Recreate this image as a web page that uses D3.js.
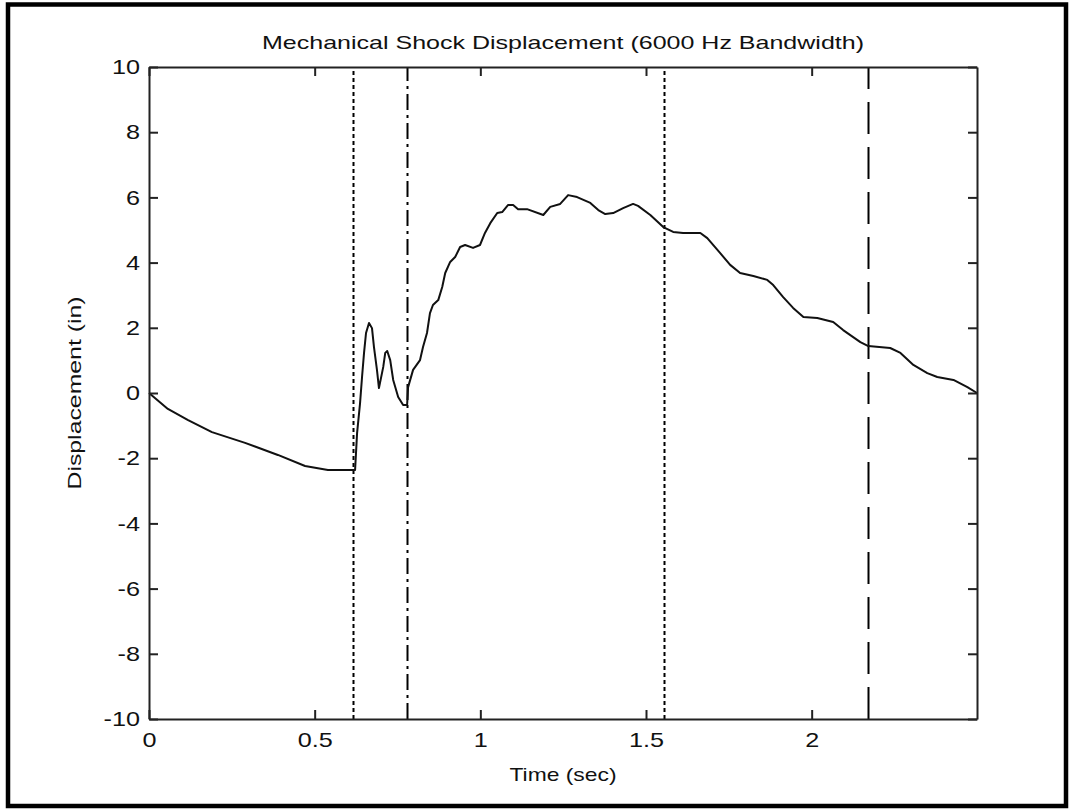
<!DOCTYPE html>
<html>
<head>
<meta charset="utf-8">
<script src="https://cdn.jsdelivr.net/npm/d3@7"></script>
<style>
  html, body { margin: 0; padding: 0; background: #fff; }
  svg { display: block; }
  text { font-family: "Liberation Sans", Arial, sans-serif; fill: #111; }
</style>
</head>
<body>
<svg id="chart" width="1070" height="809"></svg>
<script>
// ---- data ----
const title = "Mechanical Shock Displacement (6000 Hz Bandwidth)";
const xLabel = "Time (sec)";
const yLabel = "Displacement (in)";
const xTicks = [0, 0.5, 1, 1.5, 2];
const yTicks = [-10, -8, -6, -4, -2, 0, 2, 4, 6, 8, 10];
const xDomain = [0, 2.499];
const yDomain = [-10, 10];

const timeSec = [0, 0.057, 0.118, 0.190, 0.290, 0.389, 0.471, 0.540, 0.622, 0.628, 0.637, 0.643, 0.649, 0.655, 0.664, 0.673, 0.679, 0.688, 0.694, 0.707, 0.713, 0.719, 0.728, 0.737, 0.752, 0.767, 0.779, 0.782, 0.797, 0.818, 0.827, 0.839, 0.848, 0.857, 0.873, 0.885, 0.894, 0.909, 0.924, 0.939, 0.954, 0.978, 0.999, 1.014, 1.030, 1.051, 1.066, 1.084, 1.099, 1.114, 1.141, 1.190, 1.211, 1.241, 1.265, 1.292, 1.332, 1.356, 1.377, 1.401, 1.431, 1.461, 1.476, 1.513, 1.552, 1.582, 1.612, 1.664, 1.685, 1.724, 1.754, 1.784, 1.824, 1.866, 1.884, 1.914, 1.944, 1.975, 2.017, 2.065, 2.095, 2.147, 2.171, 2.237, 2.268, 2.307, 2.349, 2.379, 2.428, 2.470, 2.499];
const displacementIn = [0, -0.49, -0.83, -1.20, -1.53, -1.90, -2.24, -2.36, -2.36, -1.23, -0.31, 0.49, 1.23, 1.84, 2.15, 1.99, 1.41, 0.71, 0.15, 0.80, 1.23, 1.29, 1.01, 0.40, -0.12, -0.37, -0.37, 0.18, 0.71, 1.01, 1.41, 1.84, 2.45, 2.70, 2.85, 3.25, 3.68, 4.02, 4.17, 4.48, 4.54, 4.45, 4.54, 4.91, 5.21, 5.52, 5.55, 5.77, 5.77, 5.64, 5.64, 5.46, 5.71, 5.80, 6.07, 6.01, 5.83, 5.61, 5.49, 5.52, 5.67, 5.80, 5.74, 5.46, 5.09, 4.94, 4.91, 4.91, 4.75, 4.29, 3.93, 3.68, 3.59, 3.47, 3.31, 2.94, 2.61, 2.33, 2.30, 2.18, 1.93, 1.56, 1.44, 1.38, 1.23, 0.86, 0.61, 0.49, 0.40, 0.18, 0];

// vertical marker lines (time, style)
const markerTimes = [0.616, 0.780, 1.553, 2.171];
const markerStyles = ["dotted", "dashdot", "dotted", "dashed"];

// ---- layout ----
const svg = d3.select("#chart");
const plot = { left: 149, top: 67, right: 977, bottom: 719 };

const x = d3.scaleLinear().domain(xDomain).range([plot.left, plot.right]);
const y = d3.scaleLinear().domain(yDomain).range([plot.bottom, plot.top]);

// horizontally widen text (reference uses a wide bitmap font)
function widen(sel, factor) {
  sel.each(function () {
    const len = this.getComputedTextLength();
    d3.select(this).attr("textLength", len * factor).attr("lengthAdjust", "spacingAndGlyphs");
  });
}

// outer frame
svg.append("rect").attr("x", 8).attr("y", 4.5).attr("width", 1058).attr("height", 801.5)
  .attr("fill", "#fff").attr("stroke", "#000").attr("stroke-width", 4.5);

const dashMap = { dotted: "4,3", dashdot: "16,5,3,5", dashed: "32,13" };

// marker lines
svg.append("g").selectAll("line").data(markerTimes).join("line")
  .attr("x1", d => Math.round(x(d)) + 0.5).attr("x2", d => Math.round(x(d)) + 0.5)
  .attr("y1", y(yDomain[0])).attr("y2", y(yDomain[1]))
  .attr("stroke", "#000").attr("stroke-width", 2)
  .attr("stroke-dasharray", (d, i) => dashMap[markerStyles[i]]);

// data line
const pts = timeSec.map((t, i) => [t, displacementIn[i]]);
svg.append("path").datum(pts)
  .attr("fill", "none").attr("stroke", "#111").attr("stroke-width", 2)
  .attr("stroke-linejoin", "round")
  .attr("d", d3.line().x(d => x(d[0])).y(d => y(d[1])));

// axes (ticks inward on all four sides)
const tick = 9;
const fmt = d => String(d);
const axStyle = g => {
  g.selectAll(".domain").attr("stroke", "#222").attr("stroke-width", 2);
  g.selectAll(".tick line").attr("stroke", "#222").attr("stroke-width", 2);
};
const labStyle = g => g.selectAll("text").attr("font-size", 21).attr("fill", "#222")
  .attr("font-family", "Liberation Sans, Arial, sans-serif");

const gx = svg.append("g").attr("transform", `translate(0,${plot.bottom})`)
  .call(d3.axisBottom(x).tickValues(xTicks).tickSizeInner(-tick).tickSizeOuter(0).tickPadding(13).tickFormat(fmt))
  .call(axStyle).call(labStyle);
svg.append("g").attr("transform", `translate(0,${plot.top})`)
  .call(d3.axisTop(x).tickValues(xTicks).tickSizeInner(-tick).tickSizeOuter(0).tickFormat(""))
  .call(axStyle);
const gy = svg.append("g").attr("transform", `translate(${plot.left},0)`)
  .call(d3.axisLeft(y).tickValues(yTicks).tickSizeInner(-tick).tickSizeOuter(0).tickPadding(9).tickFormat(fmt))
  .call(axStyle).call(labStyle);
svg.append("g").attr("transform", `translate(${plot.right},0)`)
  .call(d3.axisRight(y).tickValues(yTicks).tickSizeInner(-tick).tickSizeOuter(0).tickFormat(""))
  .call(axStyle);
widen(gx.selectAll("text"), 1.2);
widen(gy.selectAll("text"), 1.2);

// labels
const t1 = svg.append("text").attr("x", (plot.left + plot.right) / 2).attr("y", 49)
  .attr("text-anchor", "middle").attr("font-size", 19).text(title);
const t2 = svg.append("text").attr("x", (plot.left + plot.right) / 2).attr("y", 781)
  .attr("text-anchor", "middle").attr("font-size", 19).text(xLabel);
const t3 = svg.append("text").attr("transform", `translate(81,${(plot.top + plot.bottom) / 2}) rotate(-90)`)
  .attr("text-anchor", "middle").attr("font-size", 19).text(yLabel);
t1.attr("textLength", 602).attr("lengthAdjust", "spacingAndGlyphs");
t2.attr("textLength", 107).attr("lengthAdjust", "spacingAndGlyphs");
t3.attr("textLength", 193).attr("lengthAdjust", "spacingAndGlyphs");
</script>
</body>
</html>
